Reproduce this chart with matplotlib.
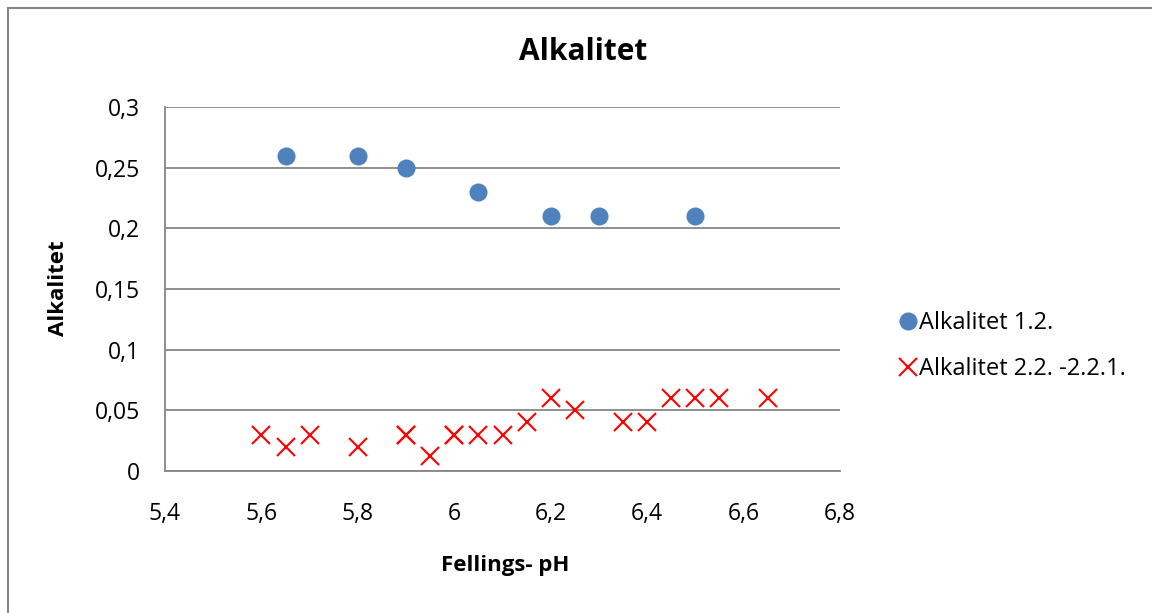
import matplotlib.pyplot as plt
from matplotlib.lines import Line2D
from matplotlib.ticker import FuncFormatter, MultipleLocator

plt.rcParams['font.family'] = ['Open Sans', 'DejaVu Sans']

# serie 1
ph_1 = [5.65, 5.8, 5.9, 6.05, 6.2, 6.3, 6.5]
alk_1 = [0.26, 0.26, 0.25, 0.23, 0.21, 0.21, 0.21]

# serie 2
ph_2 = [5.6, 5.65, 5.7, 5.8, 5.9, 5.9, 5.95, 6.0, 6.0, 6.05, 6.1, 6.15,
        6.2, 6.25, 6.35, 6.4, 6.45, 6.5, 6.55, 6.65]
alk_2 = [0.03, 0.02, 0.03, 0.02, 0.03, 0.03, 0.012, 0.03, 0.03, 0.03, 0.03, 0.04,
         0.06, 0.05, 0.04, 0.04, 0.06, 0.06, 0.06, 0.06]

label_1 = "Alkalitet 1.2."
label_2 = "Alkalitet 2.2. -2.2.1."

blue = "#4F81BD"
red = "#FF0000"
grid = "#868686"

fig = plt.figure(figsize=(11.52, 6.13), dpi=100)
ax = fig.add_axes([165/1152, 1 - 471/613, 675/1152, 364/613])

ax.plot(ph_1, alk_1, 'o', color=blue, markersize=13, markeredgewidth=0, zorder=3)
ax.plot(ph_2, alk_2, 'x', color=red, markersize=13, markeredgewidth=1.5, zorder=3)

ax.set_xlim(5.4, 6.8)
ax.set_ylim(0, 0.3)
ax.xaxis.set_major_locator(MultipleLocator(0.2))
ax.yaxis.set_major_locator(MultipleLocator(0.05))

komma = FuncFormatter(lambda v, p: ('%g' % round(v, 4)).replace('.', ','))
ax.xaxis.set_major_formatter(komma)
ax.yaxis.set_major_formatter(komma)

ax.grid(axis='y', color=grid, linewidth=1.3)
ax.set_axisbelow(True)
for s in ['top', 'right']:
    ax.spines[s].set_visible(False)
for s in ['left', 'bottom']:
    ax.spines[s].set_color(grid)
    ax.spines[s].set_linewidth(1.3)
ax.tick_params(length=0, labelsize=16.5, pad=18)
ax.tick_params(axis='x', pad=22)

fig.text(583/1152, 1 - 52/613, "Alkalitet", ha='center', va='center',
         fontsize=21.5, fontweight='bold')
fig.text(58/1152, 1 - 288/613, "Alkalitet", ha='center', va='center',
         rotation=90, fontsize=16, fontweight='bold')
fig.text(505/1152, 1 - 565/613, "Fellings- pH", ha='center', va='center',
         fontsize=16, fontweight='bold')

handles = [
    Line2D([], [], ls='none', marker='o', color=blue, markersize=13, markeredgewidth=0),
    Line2D([], [], ls='none', marker='x', color=red, markersize=13, markeredgewidth=1.5),
]
fig.legend(handles, [label_1, label_2], loc='center left',
           bbox_to_anchor=(881/1152, 1 - 346/613), frameon=False,
           fontsize=17, handlelength=0.5, handletextpad=0.2, labelspacing=0.95)

# chart frame
fig.add_artist(Line2D([8/1152, 8/1152], [0, 1 - 8/613], color=grid, linewidth=1.5,
                      transform=fig.transFigure))
fig.add_artist(Line2D([8/1152, 1], [1 - 8/613, 1 - 8/613], color=grid, linewidth=1.5,
                      transform=fig.transFigure))

fig.savefig("out.png", dpi=100)
